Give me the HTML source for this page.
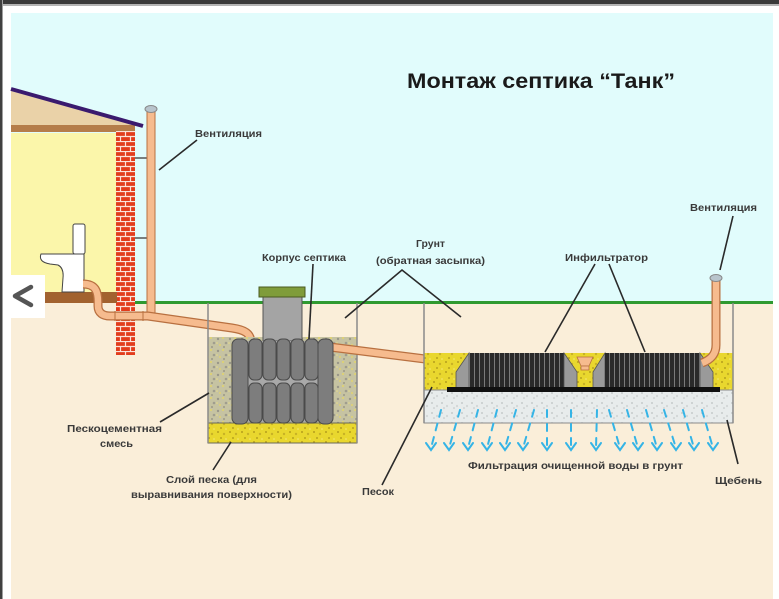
<!DOCTYPE html>
<html><head><meta charset="utf-8">
<style>
html,body{margin:0;padding:0;background:#fff;}
svg{display:block;}
text{font-family:"Liberation Sans","DejaVu Sans",sans-serif;font-weight:bold;fill:#3a3a3a;}
</style></head>
<body>
<svg width="779" height="599" viewBox="0 0 779 599" xmlns="http://www.w3.org/2000/svg">
<defs>
  <pattern id="brick" x="116" y="131" width="19" height="10" patternUnits="userSpaceOnUse">
    <rect width="19" height="10" fill="#e23c1c"/>
    <line x1="0" y1="0.5" x2="19" y2="0.5" stroke="#fbe3da" stroke-width="1.2"/>
    <line x1="0" y1="5.5" x2="19" y2="5.5" stroke="#fbe3da" stroke-width="1.2"/>
    <line x1="9.5" y1="0" x2="9.5" y2="5" stroke="#fbe3da" stroke-width="1.2"/>
    <line x1="4.5" y1="5" x2="4.5" y2="10" stroke="#fbe3da" stroke-width="1.2"/>
    <line x1="14.5" y1="5" x2="14.5" y2="10" stroke="#fbe3da" stroke-width="1.2"/>
  </pattern>
  <pattern id="scm" width="12" height="12" patternUnits="userSpaceOnUse">
    <rect width="12" height="12" fill="#c6c3a2"/>
    <circle cx="2" cy="3" r="1.2" fill="#9a978a"/>
    <circle cx="7" cy="2" r="1" fill="#e2d46a"/>
    <circle cx="10" cy="7" r="1.3" fill="#a09d8e"/>
    <circle cx="4" cy="9" r="1.1" fill="#ddd07a"/>
    <circle cx="8" cy="11" r="0.9" fill="#8f8c80"/>
    <circle cx="1" cy="7" r="0.8" fill="#e8dc8a"/>
  </pattern>
  <pattern id="sand" width="12" height="10" patternUnits="userSpaceOnUse">
    <rect width="12" height="10" fill="#e9d72e"/>
    <circle cx="2" cy="2" r="1" fill="#b59f1c"/>
    <circle cx="8" cy="4" r="1.2" fill="#c8b226"/>
    <circle cx="5" cy="8" r="0.9" fill="#a8921a"/>
    <circle cx="10" cy="9" r="0.8" fill="#f4e87a"/>
  </pattern>
  <pattern id="gravel" width="10" height="10" patternUnits="userSpaceOnUse">
    <rect width="10" height="10" fill="#e8ecec"/>
    <circle cx="2" cy="3" r="1" fill="#c6cbcb"/>
    <circle cx="7" cy="6" r="1.1" fill="#d2d6d6"/>
    <circle cx="4" cy="8" r="0.8" fill="#bfc4c4"/>
  </pattern>
  <pattern id="ribs" width="5" height="40" patternUnits="userSpaceOnUse">
    <rect width="5" height="40" fill="#2a2a2a"/>
    <rect x="4" width="1" height="40" fill="#7a7a7a"/>
  </pattern>
</defs>

<!-- frame -->
<rect x="0" y="0" width="779" height="599" fill="#ffffff"/>
<rect x="0" y="0" width="779" height="4" fill="#3a3a3a"/>
<rect x="0" y="4" width="779" height="2" fill="#b4b4b4"/>
<rect x="0" y="0" width="2" height="599" fill="#404040"/>
<rect x="2" y="0" width="1" height="599" fill="#a0a0a0"/>

<!-- sky & ground -->
<rect x="11" y="13" width="762" height="290" fill="#e1fcfc"/>
<rect x="11" y="303" width="762" height="296" fill="#faeed9"/>
<line x1="135" y1="302.5" x2="773" y2="302.5" stroke="#2f9a30" stroke-width="3"/>

<!-- house -->
<polygon points="11,91 138,126 11,126" fill="#ead2a8"/>
<rect x="11" y="133" width="106" height="160" fill="#fbf6aa"/>
<rect x="11" y="125" width="124" height="7" fill="#b57d4a"/>
<line x1="11" y1="89" x2="143" y2="126" stroke="#3a1a6e" stroke-width="4"/>
<rect x="116" y="131" width="19" height="224" fill="url(#brick)"/>
<rect x="11" y="292" width="106" height="11" fill="#a2622f"/>

<!-- toilet -->
<rect x="73" y="224" width="12" height="30" rx="2" fill="#ffffff" stroke="#444" stroke-width="1"/>
<path d="M 41 254 Q 38 262 50 264 L 58 265 Q 64 268 63 278 L 62 292 L 84 292 L 84 254 Z" fill="#ffffff" stroke="#444" stroke-width="1"/>

<!-- left vent pipe -->
<line x1="135" y1="158" x2="147" y2="158" stroke="#555" stroke-width="1.5"/>
<line x1="135" y1="238" x2="147" y2="238" stroke="#555" stroke-width="1.5"/>
<rect x="147" y="110" width="8" height="206" fill="#f6bb8e" stroke="#b87040" stroke-width="1"/>
<ellipse cx="151" cy="109" rx="6" ry="3.5" fill="#b8c4cc" stroke="#888" stroke-width="1"/>

<!-- drain pipe house -> septic -->
<path d="M 83 284 C 96 284 98 292 98 302 L 98 306 C 98 313 103 316 110 316 L 148 316 L 232 328 C 246 330 250 334 251 341" fill="none" stroke="#b87040" stroke-width="9"/>
<path d="M 83 284 C 96 284 98 292 98 302 L 98 306 C 98 313 103 316 110 316 L 148 316 L 232 328 C 246 330 250 334 251 341" fill="none" stroke="#f6bb8e" stroke-width="6.5"/>
<line x1="115" y1="311" x2="115" y2="321" stroke="#b87040" stroke-width="1"/>
<line x1="143" y1="311" x2="143" y2="321" stroke="#b87040" stroke-width="1"/>

<!-- back button -->
<rect x="8" y="275" width="37" height="43" fill="#ffffff"/>
<polyline points="31,287 15,296 31,305" fill="none" stroke="#555" stroke-width="4.5" stroke-linejoin="round" stroke-linecap="round"/>

<!-- septic pit -->
<rect x="208" y="337" width="149" height="86" fill="url(#scm)"/>
<rect x="208" y="423" width="149" height="20" fill="url(#sand)" stroke="#6a6a5a" stroke-width="1"/>
<line x1="208" y1="303" x2="208" y2="443" stroke="#8a8a8a" stroke-width="1.5"/>
<line x1="357" y1="303" x2="357" y2="443" stroke="#8a8a8a" stroke-width="1.5"/>

<!-- pipe septic -> infiltrator -->
<path d="M 330 347 L 457 363" stroke="#b87040" stroke-width="9" fill="none"/>
<path d="M 330 347 L 457 363" stroke="#f6bb8e" stroke-width="6.5" fill="none"/>

<!-- tank -->
<rect x="263" y="295" width="39" height="46" fill="#a4a4a4" stroke="#555" stroke-width="1"/>
<rect x="259" y="287" width="46" height="10" fill="#7f9c3a" stroke="#4a5a20" stroke-width="1"/>
<rect x="236" y="341" width="94" height="81" fill="#a9a9a9"/>
<rect x="232" y="339" width="16" height="85" rx="6" fill="#7d7d7d" stroke="#4a4a4a" stroke-width="1"/>
<rect x="318" y="339" width="15" height="85" rx="6" fill="#7d7d7d" stroke="#4a4a4a" stroke-width="1"/>
<g fill="#7d7d7d" stroke="#4a4a4a" stroke-width="1">
  <rect x="249" y="339" width="13" height="41" rx="5"/>
  <rect x="263" y="339" width="13" height="41" rx="5"/>
  <rect x="277" y="339" width="13" height="41" rx="5"/>
  <rect x="291" y="339" width="13" height="41" rx="5"/>
  <rect x="305" y="339" width="13" height="41" rx="5"/>
  <rect x="249" y="383" width="13" height="40" rx="5"/>
  <rect x="263" y="383" width="13" height="40" rx="5"/>
  <rect x="277" y="383" width="13" height="40" rx="5"/>
  <rect x="291" y="383" width="13" height="40" rx="5"/>
  <rect x="305" y="383" width="13" height="40" rx="5"/>
</g>

<!-- infiltrator pit -->
<rect x="424" y="353" width="309" height="37" fill="url(#sand)"/>
<rect x="424" y="390" width="309" height="33" fill="url(#gravel)" stroke="#8a8a8a" stroke-width="1"/>
<line x1="424" y1="303" x2="424" y2="423" stroke="#8a8a8a" stroke-width="1.5"/>
<line x1="733" y1="303" x2="733" y2="423" stroke="#8a8a8a" stroke-width="1.5"/>

<!-- infiltrator 1 -->
<polygon points="456,390 456,372 469,353 469,390" fill="#9a9a9a" stroke="#555" stroke-width="0.8"/>
<rect x="469" y="353" width="95" height="37" fill="url(#ribs)"/>
<polygon points="564,353 577,372 577,390 564,390" fill="#9a9a9a" stroke="#555" stroke-width="0.8"/>
<!-- infiltrator 2 -->
<polygon points="593,390 593,372 605,353 605,390" fill="#9a9a9a" stroke="#555" stroke-width="0.8"/>
<rect x="605" y="353" width="95" height="37" fill="url(#ribs)"/>
<polygon points="700,353 713,372 713,390 700,390" fill="#9a9a9a" stroke="#555" stroke-width="0.8"/>
<!-- connector -->
<polygon points="577,357 593,357 589,366 581,366" fill="#f6bb8e" stroke="#b87040" stroke-width="0.8"/>
<rect x="581" y="366" width="8" height="4" fill="#f6bb8e" stroke="#b87040" stroke-width="0.8"/>
<!-- base -->
<rect x="447" y="387" width="273" height="5" fill="#111"/>

<!-- right vent pipe -->
<path d="M 716 280 L 716 345 C 716 355 710 360 702 363" fill="none" stroke="#b87040" stroke-width="9"/>
<path d="M 716 280 L 716 345 C 716 355 710 360 702 363" fill="none" stroke="#f6bb8e" stroke-width="6.5"/>
<ellipse cx="716" cy="278" rx="6" ry="3.5" fill="#b8c4cc" stroke="#888" stroke-width="1"/>

<!-- blue arrows -->
<g stroke="#35b4e6" stroke-width="2" fill="none" stroke-linecap="round">
  <line x1="441" y1="410" x2="431" y2="448" stroke-dasharray="7,7"/>
  <line x1="460" y1="410" x2="449" y2="448" stroke-dasharray="7,7"/>
  <line x1="478" y1="410" x2="468" y2="448" stroke-dasharray="7,7"/>
  <line x1="497" y1="410" x2="487" y2="448" stroke-dasharray="7,7"/>
  <line x1="516" y1="410" x2="505" y2="448" stroke-dasharray="7,7"/>
  <line x1="534" y1="410" x2="523" y2="448" stroke-dasharray="7,7"/>
  <line x1="547" y1="410" x2="547" y2="448" stroke-dasharray="7,7"/>
  <line x1="571" y1="410" x2="571" y2="448" stroke-dasharray="7,7"/>
  <line x1="597" y1="410" x2="596" y2="448" stroke-dasharray="7,7"/>
  <line x1="609" y1="410" x2="620" y2="448" stroke-dasharray="7,7"/>
  <line x1="627" y1="410" x2="638" y2="448" stroke-dasharray="7,7"/>
  <line x1="646" y1="410" x2="657" y2="448" stroke-dasharray="7,7"/>
  <line x1="664" y1="410" x2="676" y2="448" stroke-dasharray="7,7"/>
  <line x1="683" y1="410" x2="694" y2="448" stroke-dasharray="7,7"/>
  <line x1="702" y1="410" x2="713" y2="448" stroke-dasharray="7,7"/>
  <polyline points="426,443 431,450 436,443"/>
  <polyline points="444,443 449,450 454,443"/>
  <polyline points="463,443 468,450 473,443"/>
  <polyline points="482,443 487,450 492,443"/>
  <polyline points="500,443 505,450 510,443"/>
  <polyline points="518,443 523,450 528,443"/>
  <polyline points="542,443 547,450 552,443"/>
  <polyline points="566,443 571,450 576,443"/>
  <polyline points="591,443 596,450 601,443"/>
  <polyline points="615,443 620,450 625,443"/>
  <polyline points="633,443 638,450 643,443"/>
  <polyline points="652,443 657,450 662,443"/>
  <polyline points="671,443 676,450 681,443"/>
  <polyline points="689,443 694,450 699,443"/>
  <polyline points="708,443 713,450 718,443"/>
</g>

<!-- leader lines -->
<g stroke="#2a2a2a" stroke-width="1.6" fill="none">
  <line x1="159" y1="170" x2="197" y2="140"/>
  <line x1="313" y1="264" x2="309" y2="339"/>
  <polyline points="345,318 402,270 461,317"/>
  <line x1="595" y1="264" x2="545" y2="352"/>
  <line x1="609" y1="264" x2="645" y2="352"/>
  <line x1="733" y1="216" x2="720" y2="270"/>
  <line x1="160" y1="422" x2="209" y2="393"/>
  <line x1="213" y1="470" x2="231" y2="442"/>
  <line x1="382" y1="485" x2="432" y2="387"/>
  <line x1="738" y1="464" x2="727" y2="420"/>
</g>

<!-- labels -->
<text x="407" y="88" font-size="21" textLength="268" lengthAdjust="spacingAndGlyphs" style="fill:#1a1a1a">Монтаж септика “Танк”</text>
<text x="195" y="137" font-size="10" textLength="67" lengthAdjust="spacingAndGlyphs">Вентиляция</text>
<text x="262" y="261" font-size="10" textLength="84" lengthAdjust="spacingAndGlyphs">Корпус септика</text>
<text x="416" y="247" font-size="10" textLength="29" lengthAdjust="spacingAndGlyphs">Грунт</text>
<text x="376" y="264" font-size="10" textLength="109" lengthAdjust="spacingAndGlyphs">(обратная засыпка)</text>
<text x="565" y="261" font-size="10" textLength="83" lengthAdjust="spacingAndGlyphs">Инфильтратор</text>
<text x="690" y="211" font-size="10" textLength="67" lengthAdjust="spacingAndGlyphs">Вентиляция</text>
<text x="67" y="432" font-size="10" textLength="95" lengthAdjust="spacingAndGlyphs">Пескоцементная</text>
<text x="100" y="447" font-size="10" textLength="33" lengthAdjust="spacingAndGlyphs">смесь</text>
<text x="166" y="483" font-size="10" textLength="91" lengthAdjust="spacingAndGlyphs">Слой песка (для</text>
<text x="131" y="498" font-size="10" textLength="161" lengthAdjust="spacingAndGlyphs">выравнивания  поверхности)</text>
<text x="362" y="495" font-size="10" textLength="32" lengthAdjust="spacingAndGlyphs">Песок</text>
<text x="468" y="469" font-size="10" textLength="215" lengthAdjust="spacingAndGlyphs">Фильтрация  очищенной воды в грунт</text>
<text x="715" y="484" font-size="10" textLength="47" lengthAdjust="spacingAndGlyphs">Щебень</text>

<!-- right white margin -->
<rect x="773" y="6" width="6" height="593" fill="#ffffff"/>
</svg>
</body></html>
